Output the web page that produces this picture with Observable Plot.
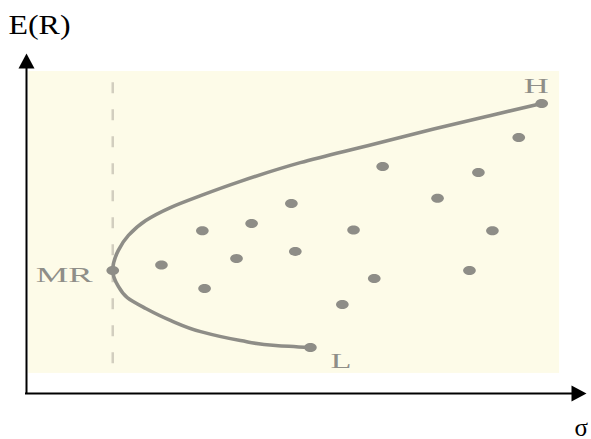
<!DOCTYPE html>
<html>
<head>
<meta charset="utf-8">
<script src="https://cdn.jsdelivr.net/npm/d3@7"></script>
<script src="https://cdn.jsdelivr.net/npm/@observablehq/plot@0.6"></script>
<style>
  html, body { margin: 0; padding: 0; background: #ffffff; }
  #chart svg { display: block; }
</style>
</head>
<body>
<div id="chart"></div>
<script>
// ---- data (σ and E(R) in arbitrary units, 0–100) ----
const sigmaDomain = [0, 100];
const erDomain = [0, 100];

// individual assets / portfolios (dots)
const assetSigma = [92.0, 87.9, 63.6, 80.7, 73.4, 47.3, 40.2, 31.4, 58.4, 83.2, 48.0, 37.5, 24.1, 79.1, 62.1, 31.8, 56.4, 15.4, 50.7];
const assetER    = [85.3, 75.3, 66.8, 65.0, 57.4, 55.9, 50.0, 47.9, 48.1, 47.9, 41.8, 39.7, 37.8, 36.2, 33.8, 30.9, 26.2, 36.2, 13.5];

// frontier curve, from L through MR up to H
const frontierSigma = [50.7, 44.5, 38.2, 31.1, 25.7, 21.3, 18.0, 16.3, 15.4, 16.4, 18.2, 21.3, 25.7, 31.1, 38.2, 48.9, 60.9, 72.7, 82.9, 92.0];
const frontierER    = [13.5, 14.1, 15.6, 18.2, 21.5, 25.0, 28.2, 31.8, 36.2, 42.1, 46.5, 50.9, 54.7, 58.2, 62.4, 67.9, 72.9, 77.8, 81.8, 85.3];

// labelled points
const labelNames = ["H", "MR", "L"];
const labelSigma = [92.0, 15.4, 50.7];
const labelER    = [85.3, 36.2, 13.5];

// shaded panel of the scanned figure
const panelSigma = [0.4, 95.2];
const panelER    = [5.9, 94.7];

// axis titles
const yTitle = "E(R)";
const xTitle = "σ";

// ---- custom symbols ----
const ellipseSymbol = {
  draw(ctx) {
    const rx = 6.3, ry = 4.5, k = 0.5523;
    ctx.moveTo(rx, 0);
    ctx.bezierCurveTo(rx, ry * k, rx * k, ry, 0, ry);
    ctx.bezierCurveTo(-rx * k, ry, -rx, ry * k, -rx, 0);
    ctx.bezierCurveTo(-rx, -ry * k, -rx * k, -ry, 0, -ry);
    ctx.bezierCurveTo(rx * k, -ry, rx, -ry * k, rx, 0);
    ctx.closePath();
  }
};
const arrowSymbol = {
  draw(ctx) {
    ctx.moveTo(0, 0);
    ctx.lineTo(-8, 15);
    ctx.lineTo(8, 15);
    ctx.closePath();
  }
};

const gray = "#8e8d87";
const serif = "Liberation Serif, Times New Roman, serif";

const labelStyle = {
  H:  {textAnchor: "start", dx: -18, dy: -10},
  MR: {textAnchor: "end",   dx: -20, dy: 12},
  L:  {textAnchor: "start", dx: 20,  dy: 20}
};

const assetIdx = d3.range(assetSigma.length);
const frontierIdx = d3.range(frontierSigma.length);

const chart = Plot.plot({
  width: 591,
  height: 439,
  marginLeft: 26,
  marginRight: 5,
  marginTop: 53,
  marginBottom: 46,
  style: {background: "#ffffff"},
  x: {domain: sigmaDomain, axis: null},
  y: {domain: erDomain, axis: null},
  marks: [
    // panel
    Plot.rect([0], {x1: panelSigma[0], x2: panelSigma[1], y1: panelER[0], y2: panelER[1], fill: "#fdfbe8"}),
    // dashed vertical through MR
    Plot.ruleX([labelSigma[1]], {y1: panelER[1] - 3.3, y2: panelER[0], stroke: "#d2cebf", strokeWidth: 2.5, strokeDasharray: "11,16"}),
    // frontier (σ is a smooth function of E(R))
    Plot.line(frontierIdx, {x: i => frontierSigma[i], y: i => frontierER[i], curve: "monotone-y", stroke: gray, strokeWidth: 3.6}),
    // dots
    Plot.dot(assetIdx, {x: i => assetSigma[i], y: i => assetER[i], symbol: ellipseSymbol, fill: gray}),
    // point labels
    ...labelNames.map((name, i) => Plot.text([i], {
      x: j => labelSigma[j], y: j => labelER[j], text: j => labelNames[j],
      lineAnchor: "bottom", fontFamily: serif, fontSize: 22, fill: "#8f8e88",
      ...labelStyle[name]
    })),
    // axes
    Plot.ruleX([sigmaDomain[0]], {y1: erDomain[0], y2: erDomain[1] - 3.5, stroke: "black", strokeWidth: 2, strokeLinecap: "square"}),
    Plot.ruleY([erDomain[0]], {x1: sigmaDomain[0], x2: sigmaDomain[1] - 2.5, stroke: "black", strokeWidth: 2, strokeLinecap: "square"}),
    Plot.dot([0, 1], {
      x: i => i === 0 ? sigmaDomain[0] : sigmaDomain[1],
      y: i => i === 0 ? erDomain[1] : erDomain[0],
      rotate: i => i === 0 ? 0 : 90,
      symbol: arrowSymbol, fill: "black"
    }),
    // axis titles
    Plot.text([yTitle], {frameAnchor: "top-left", text: d => d, textAnchor: "start", lineAnchor: "bottom", dx: -18, dy: -20, fontFamily: serif, fontSize: 27, fill: "black"}),
    Plot.text([xTitle], {frameAnchor: "bottom-right", text: d => d, textAnchor: "start", lineAnchor: "bottom", dx: -12, dy: 42, fontFamily: serif, fontSize: 25, fill: "black"})
  ]
});

// the scanned figure is stretched horizontally: stretch its serif labels too
const stretch = {"MR": 57, "H": 25, "L": 21, "E(R)": 62};
chart.querySelectorAll("text").forEach(t => {
  const s = t.textContent;
  if (stretch[s]) {
    t.setAttribute("textLength", stretch[s]);
    t.setAttribute("lengthAdjust", "spacingAndGlyphs");
  }
});

document.getElementById("chart").appendChild(chart);
</script>
</body>
</html>
